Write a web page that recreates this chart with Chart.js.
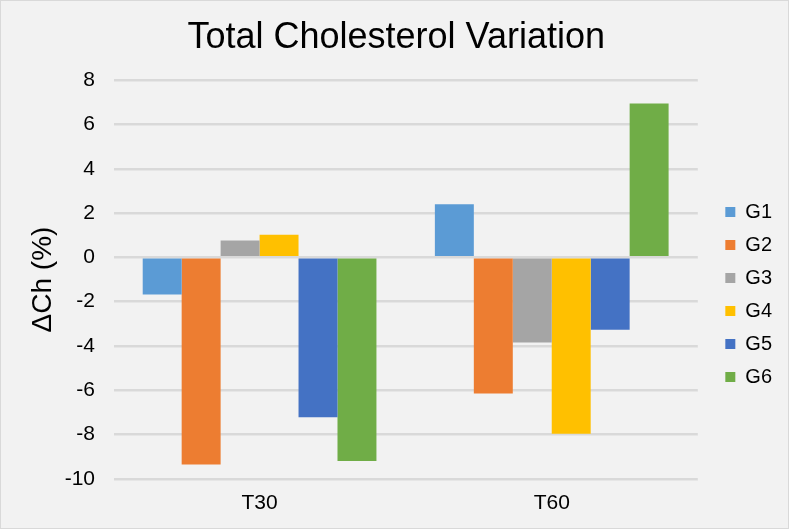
<!DOCTYPE html>
<html>
<head>
<meta charset="utf-8">
<script src="https://cdn.jsdelivr.net/npm/chart.js@4"></script>
<style>
  html, body { margin: 0; padding: 0; background: #f2f2f2; }
  #wrap { width: 787px; height: 527px; border: 1px solid #d9d9d9; }
</style>
</head>
<body>
<div id="wrap"><canvas id="chart" width="787" height="527"></canvas></div>
<script>
const categories = ['T30', 'T60'];
const groups = ['G1', 'G2', 'G3', 'G4', 'G5', 'G6'];
const g1 = [-1.68, 2.4];
const g2 = [-9.35, -6.15];
const g3 = [0.76, -3.85];
const g4 = [1.02, -7.96];
const g5 = [-7.22, -3.27];
const g6 = [-9.2, 6.95];
const colors = ['#5b9bd5', '#ed7d31', '#a5a5a5', '#ffc000', '#4472c4', '#70ad47'];
const yTicks = [8, 6, 4, 2, 0, -2, -4, -6, -8, -10];

const series = [g1, g2, g3, g4, g5, g6];
const fontFamily = '"Liberation Sans", Arial, sans-serif';

const bgPlugin = {
  id: 'bg',
  beforeDraw(chart) {
    const ctx = chart.ctx;
    ctx.save();
    ctx.fillStyle = '#f2f2f2';
    ctx.fillRect(0, 0, chart.width, chart.height);
    ctx.restore();
  }
};

// nudge legend and title to where Excel put them
const nudge = {
  id: 'nudge',
  afterLayout(chart) {
    const lg = chart.legend;
    lg.left += 14.5; lg.right += 14.5;
    lg.top += 27; lg.bottom += 27;
    const t = chart.titleBlock;
    t.left += 7; t.right += 7;
  }
};

new Chart(document.getElementById('chart'), {
  type: 'bar',
  data: {
    labels: categories,
    datasets: series.map((vals, i) => ({
      label: groups[i],
      data: vals,
      backgroundColor: colors[i],
      borderWidth: 0,
      categoryPercentage: 0.8,
      barPercentage: 1.0
    }))
  },
  options: {
    responsive: false,
    animation: false,
    layout: { padding: { left: 10, right: 20.5, top: 6, bottom: 0 } },
    plugins: {
      title: {
        display: true,
        text: 'Total Cholesterol Variation',
        color: '#000',
        font: { family: fontFamily, size: 36, weight: 'normal' },
        padding: { top: 9, bottom: 21 }
      },
      legend: {
        position: 'right',
        labels: {
          boxWidth: 10,
          boxHeight: 10,
          padding: 13,
          color: '#000',
          font: { family: fontFamily, size: 20 }
        }
      },
      tooltip: { enabled: false }
    },
    scales: {
      x: {
        grid: { display: false, drawTicks: false },
        border: { display: false },
        ticks: { color: '#000', font: { family: fontFamily, size: 21 }, padding: 12 }
      },
      y: {
        min: -10,
        max: 8,
        afterBuildTicks(scale) {
          scale.ticks = yTicks.map(v => ({ value: v }));
        },
        afterFit(scale) { scale.width = 102.5; },
        grid: { color: '#d9d9d9', lineWidth: 2.5, drawTicks: false },
        border: { display: false },
        title: {
          display: true,
          text: 'ΔCh (%)',
          color: '#000',
          font: { family: fontFamily, size: 28 },
          padding: { top: 15, bottom: 0 }
        },
        ticks: { color: '#000', font: { family: fontFamily, size: 21 }, padding: 18.5 }
      }
    }
  },
  plugins: [bgPlugin, nudge]
});
</script>
</body>
</html>
